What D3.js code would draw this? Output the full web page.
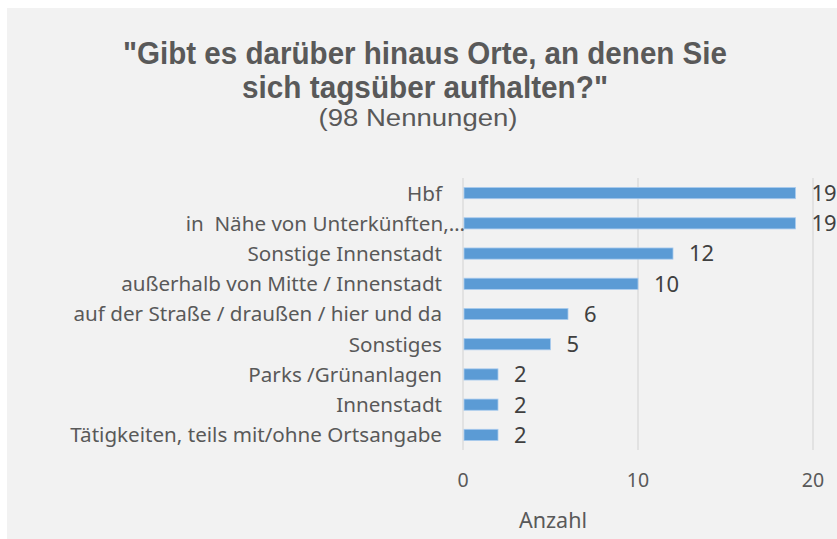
<!DOCTYPE html>
<html lang="de">
<head>
<meta charset="UTF-8">
<title>Orte tagsüber</title>
<script src="https://d3js.org/d3.v7.min.js"></script>
<style>
    body { margin: 0; background: #fff; }
    svg text { fill: #595959; white-space: pre; }
</style>
</head>
<body>
<div id="chart"></div>
<script>
// data, top to bottom
const places = [
    "Hbf",
    "in  Nähe von Unterkünften,…",
    "Sonstige Innenstadt",
    "außerhalb von Mitte / Innenstadt",
    "auf der Straße / draußen / hier und da",
    "Sonstiges",
    "Parks /Grünanlagen",
    "Innenstadt",
    "Tätigkeiten, teils mit/ohne Ortsangabe"
];
const counts = [19, 19, 12, 10, 6, 5, 2, 2, 2];
const xTicks = [0, 10, 20];

const titleLines = ['"Gibt es darüber hinaus Orte, an denen Sie', 'sich tagsüber aufhalten?"'];
const subtitle = "(98 Nennungen)";
const xLabel = "Anzahl";

const width = 837, height = 539;
const plot = { left: 463, right: 813, top: 178, bottom: 450 };

const svg = d3.select("#chart").append("svg")
    .attr("width", width)
    .attr("height", height);

// chart area background
svg.append("rect")
    .attr("x", 7).attr("y", 8)
    .attr("width", width - 7).attr("height", height - 8)
    .attr("fill", "#f2f2f2");

const titleFont = "'Liberation Sans', sans-serif";
const labelFont = "'Noto Sans', 'DejaVu Sans', sans-serif";

// the original uses a narrow face, so squeeze the text to its width
const titleWidths = [604, 366];
svg.selectAll(".title")
    .data(titleLines)
    .enter().append("text")
    .attr("class", "title")
    .attr("x", 425)
    .attr("y", (d, i) => 64 + i * 34)
    .attr("text-anchor", "middle")
    .attr("textLength", (d, i) => titleWidths[i])
    .attr("lengthAdjust", "spacingAndGlyphs")
    .style("font-family", titleFont)
    .style("font-weight", "bold")
    .style("font-size", "32px")
    .text(d => d);

svg.append("text")
    .attr("x", 418).attr("y", 126)
    .attr("text-anchor", "middle")
    .attr("textLength", 199)
    .attr("lengthAdjust", "spacingAndGlyphs")
    .style("font-family", titleFont)
    .style("font-size", "23px")
    .text(subtitle);

const x = d3.scaleLinear().domain([0, 20]).range([plot.left, plot.right]);
const y = d3.scaleBand().domain(places).range([plot.top, plot.bottom]).paddingInner(0.63).paddingOuter(0.315);

// vertical gridlines
svg.selectAll(".grid")
    .data(xTicks)
    .enter().append("line")
    .attr("x1", d => x(d)).attr("x2", d => x(d))
    .attr("y1", plot.top).attr("y2", plot.bottom)
    .attr("stroke", "#d9d9d9")
    .attr("stroke-width", 1.3);

// bars
svg.selectAll(".bar")
    .data(places)
    .enter().append("rect")
    .attr("x", x(0) + 1)
    .attr("y", d => y(d))
    .attr("width", (d, i) => x(counts[i]) - x(0) - 1)
    .attr("height", y.bandwidth())
    .attr("fill", "#5b9bd5")
    .attr("stroke", "#a9cbee")
    .attr("stroke-width", 0.8);

// value labels
svg.selectAll(".val")
    .data(places)
    .enter().append("text")
    .attr("x", (d, i) => x(counts[i]) + 16)
    .attr("y", d => y(d) + y.bandwidth() / 2)
    .attr("dy", "0.36em")
    .style("font-family", labelFont)
    .style("font-size", "22px")
    .style("fill", "#404040")
    .text((d, i) => counts[i]);

// category labels
const cats = svg.selectAll(".cat")
    .data(places)
    .enter().append("text")
    .attr("x", d => d.endsWith("…") ? 465 : 442)
    .attr("y", d => y(d) + y.bandwidth() / 2)
    .attr("dy", "0.36em")
    .attr("text-anchor", "end")
    .style("font-family", labelFont)
    .style("font-size", "17px")
    .text(d => d);

// size the labels so the longest one spans like in the original (~372px)
let longest = 0;
cats.each(function () { longest = Math.max(longest, this.getComputedTextLength()); });
cats.style("font-size", (17 * 372 / longest).toFixed(2) + "px");

// x axis tick labels
svg.selectAll(".tick")
    .data(xTicks)
    .enter().append("text")
    .attr("x", d => x(d))
    .attr("y", 480)
    .attr("dy", "0.36em")
    .attr("text-anchor", "middle")
    .style("font-family", labelFont)
    .style("font-size", "19.5px")
    .text(d => d);

svg.append("text")
    .attr("x", 553).attr("y", 520)
    .attr("dy", "0.36em")
    .attr("text-anchor", "middle")
    .style("font-family", labelFont)
    .style("font-size", "21.5px")
    .text(xLabel);
</script>
</body>
</html>
